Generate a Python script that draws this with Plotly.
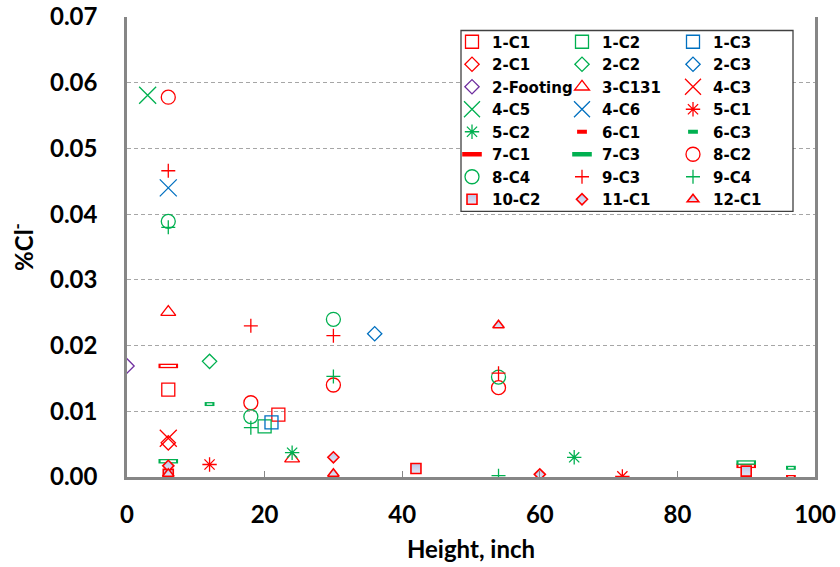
import plotly.graph_objects as go

# ---------------- data ----------------
series_names = ["1-C1", "1-C2", "1-C3", "2-C1", "2-C2", "2-C3", "2-Footing", "3-C131",
                "4-C3", "4-C5", "4-C6", "5-C1", "5-C2", "6-C1", "6-C3", "7-C1",
                "7-C3", "8-C2", "8-C4", "9-C3", "9-C4", "10-C2", "11-C1", "12-C1"]

x_1C1 = [6, 22];            y_1C1 = [0.0133, 0.0095]
x_1C2 = [20];               y_1C2 = [0.0077]
x_1C3 = [21];               y_1C3 = [0.0083]
x_2C1 = [6];                y_2C1 = [0.0052]
x_2C2 = [12];               y_2C2 = [0.0176]
x_2C3 = [36];               y_2C3 = [0.0218]
x_2F = [0];                 y_2F = [0.0169]
x_3C131 = [6, 24];          y_3C131 = [0.0251, 0.0028]
x_4C3 = [6];                y_4C3 = [0.0059]
x_4C5 = [3];                y_4C5 = [0.0581]
x_4C6 = [6];                y_4C6 = [0.0440]
x_5C1 = [12, 72];           y_5C1 = [0.0019, 0.0001]
x_5C2 = [24, 65];           y_5C2 = [0.0037, 0.0030]
x_6C1 = [96.5];             y_6C1 = [0.0000]
x_6C3 = [12, 96.5];         y_6C3 = [0.0111, 0.0014]
x_7C1 = [6, 90];            y_7C1 = [0.0169, 0.0017]
x_7C3 = [6, 90];            y_7C3 = [0.0024, 0.0022]
x_8C2 = [6, 18, 30, 54];    y_8C2 = [0.0578, 0.0113, 0.0140, 0.0136]
x_8C4 = [6, 18, 30, 54];    y_8C4 = [0.0389, 0.0092, 0.0240, 0.0152]
x_9C3 = [6, 18, 30, 54];    y_9C3 = [0.0466, 0.0230, 0.0215, 0.0158]
x_9C4 = [6, 18, 30, 54];    y_9C4 = [0.0380, 0.0075, 0.0153, 0.0002]
x_10C2 = [6, 42, 90];       y_10C2 = [0.0004, 0.0013, 0.0009]
x_11C1 = [6, 30, 60];       y_11C1 = [0.0017, 0.0030, 0.0004]
x_12C1 = [6, 30, 54];       y_12C1 = [0.0005, 0.0005, 0.0231]

x_values = [x_1C1, x_1C2, x_1C3, x_2C1, x_2C2, x_2C3, x_2F, x_3C131, x_4C3, x_4C5, x_4C6,
            x_5C1, x_5C2, x_6C1, x_6C3, x_7C1, x_7C3, x_8C2, x_8C4, x_9C3, x_9C4,
            x_10C2, x_11C1, x_12C1]
y_values = [y_1C1, y_1C2, y_1C3, y_2C1, y_2C2, y_2C3, y_2F, y_3C131, y_4C3, y_4C5, y_4C6,
            y_5C1, y_5C2, y_6C1, y_6C3, y_7C1, y_7C3, y_8C2, y_8C4, y_9C3, y_9C4,
            y_10C2, y_11C1, y_12C1]

x_ticks = [0, 20, 40, 60, 80, 100]
y_ticks = [0.00, 0.01, 0.02, 0.03, 0.04, 0.05, 0.06, 0.07]

# ---------------- styles ----------------
RED = "#FF0000"
GREEN = "#00B050"
BLUE = "#0070C0"
PURPLE = "#7030A0"
FILL = "#BCC6E8"

# (symbol, size, color, line width, filled)
styles = [
    ("square-open", 13, RED, 1.3, False),
    ("square-open", 13, GREEN, 1.3, False),
    ("square-open", 13, BLUE, 1.3, False),
    ("diamond-open", 11, RED, 1.3, False),
    ("diamond-open", 11, GREEN, 1.3, False),
    ("diamond-open", 11, BLUE, 1.3, False),
    ("diamond-open", 11, PURPLE, 1.3, False),
    ("triangle-up-open", 13, RED, 1.3, False),
    ("x-thin-open", 17, RED, 1.3, False),
    ("x-thin-open", 17, GREEN, 1.3, False),
    ("x-thin-open", 17, BLUE, 1.3, False),
    ("asterisk-open", 12, RED, 1.3, False),
    ("asterisk-open", 12, GREEN, 1.3, False),
    ("line-ew-open", 7, RED, 4, False),
    ("line-ew-open", 7, GREEN, 4, False),
    ("line-ew-open", 14, RED, 4.5, False),
    ("line-ew-open", 14, GREEN, 4.5, False),
    ("circle-open", 14, RED, 1.3, False),
    ("circle-open", 14, GREEN, 1.3, False),
    ("cross-thin-open", 10, RED, 1.3, False),
    ("cross-thin-open", 10, GREEN, 1.3, False),
    ("square", 10, RED, 1.6, True),
    ("diamond", 8.5, RED, 1.6, True),
    ("triangle-up", 10, RED, 1.6, True),
]

legend_ids = ["legend", "legend2", "legend3"]

fig = go.Figure()
for i, name in enumerate(series_names):
    sym, size, color, lw, filled = styles[i]
    if filled:
        marker = dict(symbol=sym, size=size, color=FILL,
                      gradient=dict(type="vertical", color="#E2E6F6"),
                      line=dict(color=color, width=lw))
    else:
        marker = dict(symbol=sym, size=size, color=color, line=dict(color=color, width=lw))
    fig.add_trace(go.Scatter(x=x_values[i], y=y_values[i], mode="markers", name=name,
                             marker=marker, legend=legend_ids[i % 3], hoverinfo="skip"))
    if sym == "line-ew-open":
        # hollow interior of the rectangle (dash) markers
        fig.add_trace(go.Scatter(x=x_values[i], y=y_values[i], mode="markers",
                                 showlegend=False, hoverinfo="skip",
                                 marker=dict(symbol="line-ew-open", size=size - 3,
                                             color="white",
                                             line=dict(color="white", width=lw - 2.6))))

TICKFONT = dict(family="Lato", size=24, color="black", weight="bold")
LEGFONT = dict(family="DejaVu Sans", size=15, color="black", weight="bold")

plot_l, plot_t, plot_r, plot_b = 127, 16.5, 815, 476.7
pw, ph = plot_r - plot_l, plot_b - plot_t

def px_to_paper_x(px):
    return (px - plot_l) / pw

def px_to_paper_y(py):
    return 1 - (py - plot_t) / ph

leg_common = dict(orientation="v", xanchor="left", yanchor="top", bgcolor="rgba(0,0,0,0)",
                  borderwidth=0, font=LEGFONT, tracegroupgap=0, itemclick=False)
col_sym_x = [472, 582, 693]
leg_top = 25
layout_legends = {}
for k, lid in enumerate(legend_ids):
    layout_legends[lid] = dict(leg_common, x=px_to_paper_x(col_sym_x[k] - 20),
                               y=px_to_paper_y(leg_top))

fig.update_layout(
    width=840, height=567,
    margin=dict(l=127, r=25, t=16.5, b=90),
    plot_bgcolor="white", paper_bgcolor="white",
    showlegend=True,
    **layout_legends,
    xaxis=dict(range=[0, 100], tickvals=x_ticks, showline=True, linecolor="#868686",
               linewidth=2.5, ticks="inside", ticklen=6, tickwidth=1.3, tickcolor="#868686",
               showgrid=False, zeroline=False, tickfont=TICKFONT, ticklabelstandoff=14,
               automargin=False,
               title=dict(text="Height, inch", font=dict(family="Lato", size=24, color="black",
                                                        weight="bold"), standoff=15)),
    yaxis=dict(range=[0, 0.07], tickvals=y_ticks, tickformat=".2f", showline=True,
               linecolor="#868686", linewidth=2.5, mirror=True, ticks="",
               showgrid=True, gridcolor="#A6A6A6", gridwidth=1, griddash="4px,3px",
               zeroline=False, tickfont=TICKFONT, ticklabelstandoff=22, automargin=False,
               title=dict(text="%Cl<sup>-</sup>", font=dict(family="Lato", size=24,
                                                           color="black", weight="bold"),
                          standoff=10)),
    shapes=[dict(type="rect", xref="paper", yref="paper", layer="above",
                 x0=px_to_paper_x(461), x1=px_to_paper_x(793),
                 y0=px_to_paper_y(211), y1=px_to_paper_y(30),
                 fillcolor="white", line=dict(color="#404040", width=1.3))],
)

fig.write_html("out.html", config={"displayModeBar": False},
               post_script="document.body.style.margin='0px';")
